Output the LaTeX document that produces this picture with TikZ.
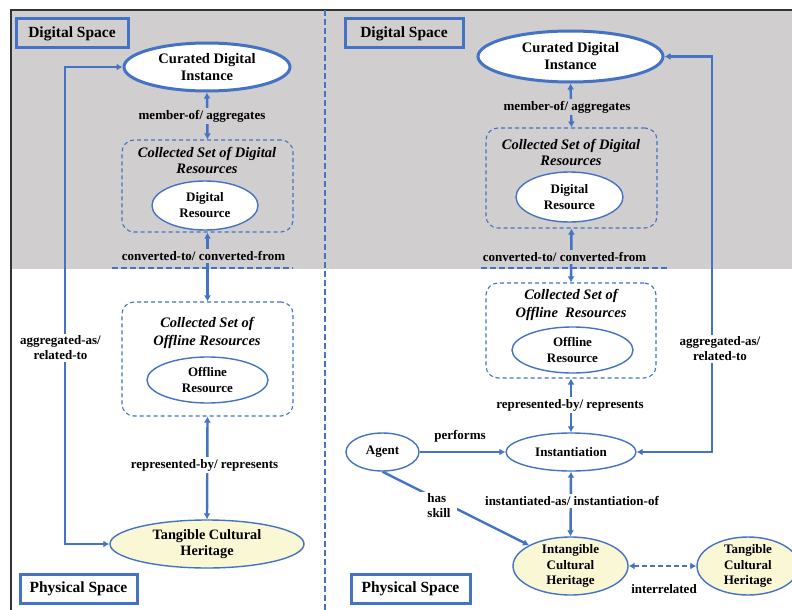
\documentclass[tikz,border=0pt]{standalone}
\usepackage{fontspec}
\setmainfont{Liberation Serif}
\usepackage{tikz}
\usetikzlibrary{shapes.geometric,arrows.meta}
\definecolor{ofblue}{HTML}{4472C4}
\definecolor{dgrey}{HTML}{D0CECE}
\definecolor{tcyellow}{RGB}{250,247,212}

\begin{document}
\begin{tikzpicture}[x=1pt,y=-1pt,
  spacebox/.style={draw=ofblue,line width=3pt,minimum width=#1,minimum height=29pt,inner sep=0pt,font=\bfseries\fontsize{15.5}{18}\selectfont},
  oval/.style={ellipse,draw=ofblue,line width=1.4pt,fill=white,inner sep=0pt,align=center,font=\bfseries\fontsize{13}{16}\selectfont},
  bigoval/.style={oval,line width=3pt,font=\bfseries\fontsize{14.5}{17}\selectfont},
  setbox/.style={draw=ofblue,line width=1.1pt,rounded corners=12pt,dash pattern=on 4pt off 3pt},
  settitle/.style={align=center,font=\bfseries\itshape\fontsize{14.5}{16}\selectfont},
  lbl/.style={inner sep=2pt,align=center,font=\bfseries\fontsize{13}{15}\selectfont},
  link/.style={draw=ofblue,line width=2.4pt,{Latex[length=6pt,width=7pt]}-{Latex[length=6pt,width=7pt]}},
  onelink/.style={draw=ofblue,line width=2.4pt,-{Latex[length=6pt,width=7pt]}},
  cutline/.style={draw=ofblue,line width=2.4pt,dash pattern=on 6pt off 3pt}]
\useasboundingbox (0,0) rectangle (792,610);
\clip (0,0) rectangle (792,610);
% background and frame
\fill[dgrey] (11,10) rectangle (792,269);
\draw[line width=1.8pt,black!80] (11,610) -- (11,10) -- (792,10);
\draw[cutline] (325,10) -- (325,610);

% left panel
\node[spacebox=112pt,fill=dgrey] (dspaceL) at (72,33.5) {Digital Space};
\node[bigoval,minimum width=166pt,minimum height=48pt] (cdiL) at (207,67) {Curated Digital\\Instance};
\node[setbox,minimum width=171pt,minimum height=92pt] (setDL) at (207.5,186) {};
\node[settitle] (setDLt) at (207,160) {Collected Set of Digital\\Resources};
\node[oval,minimum width=106pt,minimum height=49pt] (drL) at (205,205.5) {Digital\\Resource};
\node[setbox,minimum width=171pt,minimum height=114pt] (setOL) at (207.5,359) {};
\node[settitle] (setOLt) at (207,332.5) {Collected Set of\\[2pt]Offline Resources};
\node[oval,minimum width=121pt,minimum height=46pt] (orL) at (207.5,380) {Offline\\Resource};
\node[oval,fill=tcyellow,minimum width=194pt,minimum height=48pt,font=\bfseries\fontsize{14.3}{16}\selectfont] (tchL) at (207,544) {Tangible Cultural\\Heritage};
\node[spacebox=117pt,fill=white] (pspaceL) at (78.5,588.5) {Physical Space};
\coordinate (cvL1) at (112,268);
\coordinate (cvL2) at (293,268);
\coordinate (aggL) at (65,300);

% right panel
\node[spacebox=118pt,fill=dgrey] (dspaceR) at (404,33.5) {Digital Space};
\node[bigoval,minimum width=185pt,minimum height=51pt] (cdiR) at (570.5,56.5) {Curated Digital\\Instance};
\node[setbox,minimum width=171pt,minimum height=100pt] (setDR) at (571.5,178) {};
\node[settitle] (setDRt) at (571,152) {Collected Set of Digital\\Resources};
\node[oval,minimum width=107pt,minimum height=50pt] (drR) at (569.5,197) {Digital\\Resource};
\node[setbox,minimum width=170pt,minimum height=95pt] (setOR) at (571,330.5) {};
\node[settitle] (setORt) at (571,305) {Collected Set of\\[2pt]Offline~~Resources};
\node[oval,minimum width=121pt,minimum height=46pt] (orR) at (572.5,350) {Offline\\Resource};
\node[oval,minimum width=130pt,minimum height=38pt] (inst) at (571,452) {Instantiation};
\node[oval,minimum width=73pt,minimum height=38pt] (agent) at (382.5,452) {Agent};
\node[oval,fill=tcyellow,inner ysep=-4pt,minimum width=115pt,minimum height=58pt,font=\bfseries\fontsize{13}{15.5}\selectfont] (ich) at (570.5,566) {Intangible\\Cultural\\Heritage};
\node[oval,fill=tcyellow,inner ysep=-4pt,minimum width=102pt,minimum height=58pt,font=\bfseries\fontsize{13}{15.5}\selectfont] (tchR) at (748,566) {Tangible\\Cultural\\Heritage};
\node[spacebox=119pt,fill=white] (pspaceR) at (410.5,589) {Physical Space};
\coordinate (cvR1) at (481,268);
\coordinate (cvR2) at (667,268);
\coordinate (aggR) at (712,300);

% connectors
\draw[link] (cdiL.south) -- (setDL.north);
\draw[link] (setOL.north) -- (setDL.south);
\draw[link] (setOL.south) -- (tchL.north);
\draw[link] (tchL.west) -| (aggL) |- (cdiL.west);
\draw[link] (cdiR.south) -- (setDR.north);
\draw[link] (setOR.north) -- (setDR.south);
\draw[link] (setOR.south) -- (inst.north);
\draw[link] (inst.south) -- (ich.north);
\draw[link] (cdiR.east) -| (aggR) |- (inst.east);
\draw[onelink] (agent.east) -- (inst.west);
\draw[onelink] (agent.south) -- (ich);
\draw[link,dash pattern=on 5pt off 3pt] (ich.east) -- (tchR.west);

% labels
\node[lbl,fill=dgrey] (memL) at (202,116) {member-of/ aggregates};
\node[lbl,fill=dgrey] (convL) at (203.5,256) {converted-to/ converted-from};
\node[lbl,fill=white] (repL) at (204.5,465) {represented-by/ represents};
\node[lbl,fill=white] (aggLt) at (60.5,348) {aggregated-as/\\related-to};
\node[lbl,fill=dgrey] (memR) at (567,107) {member-of/ aggregates};
\node[lbl,fill=dgrey] (convR) at (564.5,257) {converted-to/ converted-from};
\node[lbl,fill=white] (repR) at (570,405) {represented-by/ represents};
\node[lbl,fill=white] (insR) at (572,501) {instantiated-as/ instantiation-of};
\node[lbl,fill=white] (aggRt) at (720,349) {aggregated-as/\\related-to};
\node[lbl] (perf) at (460,436) {performs};
\node[lbl,fill=white,align=left,inner xsep=6pt] (skill) at (439,506) {has\\skill};
\node[lbl] (inter) at (664,589) {interrelated};
\draw[cutline] (cvL1) -- (cvL2);
\draw[cutline] (cvR1) -- (cvR2);
\end{tikzpicture}
\end{document}
